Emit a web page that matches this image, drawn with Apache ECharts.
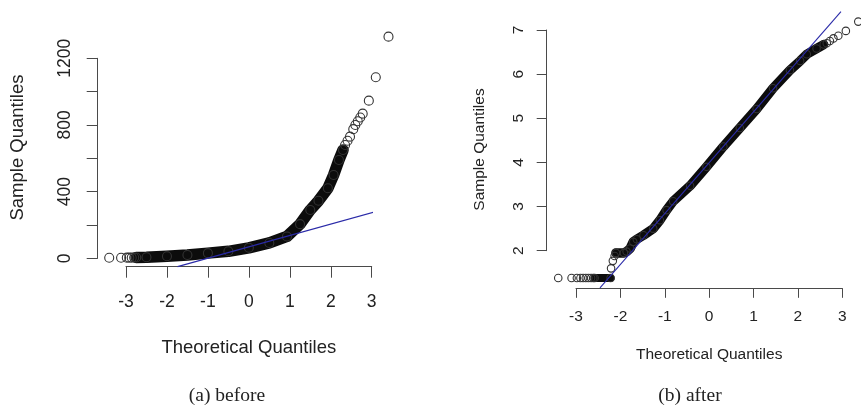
<!DOCTYPE html>
<html><head><meta charset="utf-8">
<script src="https://cdn.jsdelivr.net/npm/echarts@6/dist/echarts.min.js"></script>
<style>html,body{margin:0;padding:0;background:#fff}#c{width:861px;height:405px}</style>
</head><body><div id="c"></div>
<script>
// ---------- (a) before ----------
const leftTailQ = [-3.41, -3.12, -2.98, -2.92, -2.86, -2.80];
const leftTailV = [3, 3, 4, 4, 4, 5];
const leftBandQ = [-2.75, -2.50, -2.00, -1.50, -1.00, -0.50, 0.00, 0.50, 0.93, 1.25, 1.50, 1.70, 1.93, 2.07, 2.20, 2.30];
const leftBandV = [5, 6, 12, 20, 31, 42, 63, 92, 131, 205, 290, 345, 420, 500, 590, 650];
const leftUpperQ = [2.35, 2.41, 2.47, 2.55, 2.60, 2.66, 2.72, 2.78, 2.93, 3.10, 3.41];
const leftUpperV = [680, 705, 730, 775, 800, 822, 845, 868, 946, 1086, 1330];
const leftLineQ = [-1.74, 3.69];
const leftLineV = [-50, 320];
const leftYLabels = [0, 400, 800, 1200];

// ---------- (b) after ----------
const rightTailQ = [-3.40, -3.10, -2.98, -2.90, -2.84, -2.78, -2.72, -2.66, -2.61];
const rightTailV = [1.38, 1.38, 1.38, 1.38, 1.38, 1.38, 1.38, 1.38, 1.38];
const rightFloorQ = [-2.58, -2.22];
const rightFloorV = [1.38, 1.38];
const rightStepQ = [-2.21, -2.17, -2.13];
const rightStepV = [1.60, 1.77, 1.88];
const rightBandQ = [-2.10, -1.92, -1.86, -1.78, -1.71, -1.63, -1.48, -1.26, -1.11, -0.96, -0.81, -0.43, -0.06, 0.32, 0.69, 1.07, 1.44, 1.82, 2.05, 2.20, 2.42, 2.58];
const rightBandV = [1.95, 1.95, 1.98, 2.05, 2.20, 2.26, 2.35, 2.50, 2.69, 2.92, 3.12, 3.47, 3.90, 4.36, 4.78, 5.21, 5.68, 6.09, 6.30, 6.45, 6.58, 6.67];
const rightUpperQ = [2.65, 2.72, 2.80, 2.91, 3.08, 3.36];
const rightUpperV = [6.70, 6.75, 6.81, 6.87, 6.98, 7.19];
const rightLineQ = [-2.46, 2.97];
const rightLineV = [1.16, 7.415];

const xTitle = 'Theoretical Quantiles';
const yTitle = 'Sample Quantiles';
const captions = ['(a) before', '(b) after'];

const zip = (a, b) => a.map((v, i) => [v, b[i]]);
const SANS = '"Liberation Sans", Arial, Helvetica, sans-serif';
const SERIF = '"Liberation Serif", "Times New Roman", serif';
const AXC = '#4a4a4a';
const TXT = '#222';
const BLUE = '#2a2aa8';

function axisX(gi, offset, tick, fs, margin, nfs, gap) {
  return {
    gridIndex: gi, type: 'value', min: -3, max: 3, interval: 1, offset: offset,
    axisLine: { show: true, onZero: false, lineStyle: { color: AXC, width: 1 } },
    axisTick: { show: true, length: tick, lineStyle: { color: AXC, width: 1 } },
    axisLabel: { fontSize: fs, fontFamily: SANS, color: TXT, margin: margin },
    splitLine: { show: false },
    name: xTitle, nameLocation: 'middle', nameGap: gap,
    nameTextStyle: { fontSize: nfs, fontFamily: SANS, color: TXT }
  };
}
function axisY(gi, min, max, interval, offset, tick, fs, margin, fmt) {
  return {
    gridIndex: gi, type: 'value', min: min, max: max, interval: interval, offset: offset,
    axisLine: { show: true, onZero: false, lineStyle: { color: AXC, width: 1 } },
    axisTick: { show: true, length: tick, lineStyle: { color: AXC, width: 1 } },
    axisLabel: { fontSize: fs, fontFamily: SANS, color: TXT, margin: margin, rotate: 90, formatter: fmt },
    splitLine: { show: false }
  };
}
function band(ai, q, v, w) {
  return { type: 'line', xAxisIndex: ai, yAxisIndex: ai, data: zip(q, v), symbol: 'none',
    smooth: false, clip: false, silent: true, z: 1,
    lineStyle: { width: w, color: '#0c0c0c', cap: 'round', join: 'round' } };
}
function pts(ai, data, size) {
  return { type: 'scatter', xAxisIndex: ai, yAxisIndex: ai, data: data, symbol: 'circle',
    symbolSize: size, clip: false, silent: true, z: 2,
    itemStyle: { color: 'rgba(0,0,0,0)', borderColor: '#333', borderWidth: 1.1, opacity: 1 } };
}
function qqline(ai, q, v) {
  return { type: 'line', xAxisIndex: ai, yAxisIndex: ai, data: zip(q, v), symbol: 'none',
    clip: false, silent: true, z: 3, lineStyle: { width: 1.1, color: BLUE } };
}
function txt(x, y, text, font, rot) {
  return { type: 'text', x: x, y: y, rotation: rot || 0, silent: true,
    style: { text: text, font: font, fill: TXT, align: 'center', verticalAlign: 'middle',
      textAlign: 'center', textVerticalAlign: 'middle' } };
}

const chart = echarts.init(document.getElementById('c'), null, { renderer: 'canvas' });
chart.setOption({
  animation: false,
  backgroundColor: '#fff',
  grid: [
    { left: 126, top: 58.3, width: 245.7, height: 200, outerBoundsMode: 'none', containLabel: false },
    { left: 576, top: 30, width: 266.3, height: 220.7, outerBoundsMode: 'none', containLabel: false }
  ],
  xAxis: [
    axisX(0, 8.4, 11, 17.5, 26, 18.5, 72),
    axisX(1, 37.6, 9.5, 15.5, 20.5, 15.5, 58)
  ],
  yAxis: [
    axisY(0, 0, 1200, 200, 28.3, 11, 17.5, 24, v => leftYLabels.indexOf(v) >= 0 ? String(v) : ''),
    axisY(1, 2, 7, 1, 29.3, 10, 15.5, 20, v => String(v))
  ],
  series: [
    band(0, leftBandQ, leftBandV, 11.5),
    pts(0, zip(leftTailQ, leftTailV).concat(zip(leftBandQ, leftBandV), zip(leftUpperQ, leftUpperV)), 9),
    qqline(0, leftLineQ, leftLineV),
    band(1, rightFloorQ, rightFloorV, 8),
    band(1, rightBandQ, rightBandV, 9.5),
    pts(1, zip(rightTailQ, rightTailV).concat(zip(rightFloorQ, rightFloorV), zip(rightStepQ, rightStepV), zip(rightBandQ, rightBandV), zip(rightUpperQ, rightUpperV)), 7.5),
    qqline(1, rightLineQ, rightLineV)
  ],
  graphic: [
    txt(17.5, 147.5, yTitle, '18.5px ' + SANS, Math.PI / 2),
    txt(480, 149.5, yTitle, '15.5px ' + SANS, Math.PI / 2),
    txt(227, 396, captions[0], '19.5px ' + SERIF),
    txt(690, 396, captions[1], '19.5px ' + SERIF)
  ]
});
</script></body></html>
